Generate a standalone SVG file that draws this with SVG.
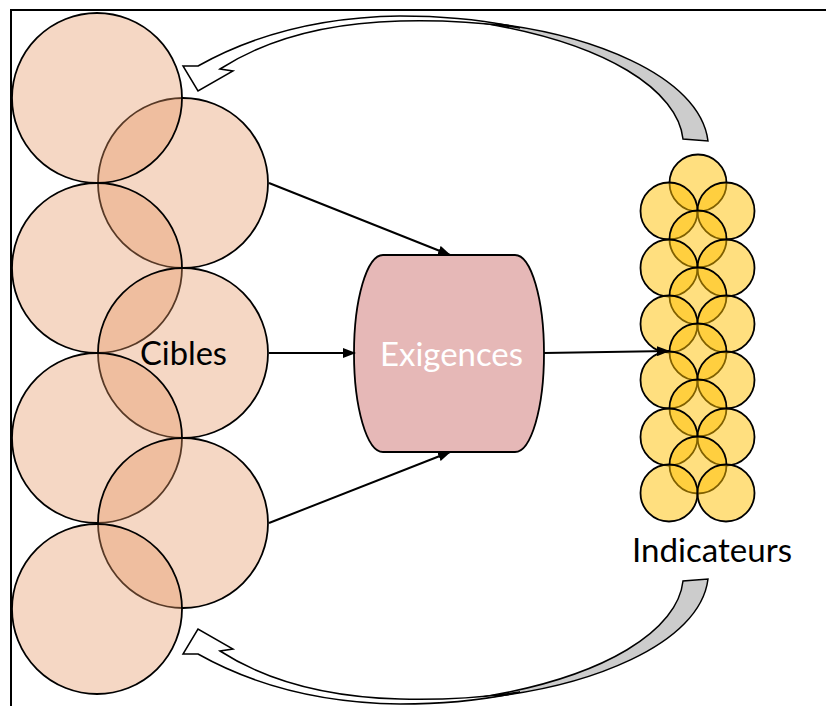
<svg xmlns="http://www.w3.org/2000/svg" width="826" height="706" viewBox="0 0 826 706">
<style>
.peach{fill:rgb(230,150,100);fill-opacity:0.38;stroke:#000;stroke-width:1.8}
.yel{fill:#FFC000;fill-opacity:0.5;stroke:#000;stroke-width:1.8}
.conn{stroke:#000;stroke-width:2;fill:none}
.lbl{font-family:Lato,"Open Sans","Liberation Sans",sans-serif;font-size:32px}
.band{stroke:#000;stroke-width:1.5;stroke-linejoin:miter}
</style>
<defs>
<marker id="ah" viewBox="0 0 13 10" refX="12" refY="5" markerWidth="13" markerHeight="10" markerUnits="userSpaceOnUse" orient="auto">
<path d="M0,0 L13,5 L0,10 Z" fill="#000"/>
</marker>
<g id="curved">
<path class="band" fill="#CCCCCC" d="M470,21 C590,31 700,76 708,141 L683,139 C678,92 610,42 470,21 Z"/>
<path class="band" fill="#FFFFFF" d="M183,66 L198,66 C255,34 320,17 400,16 C440,16 480,19 520,28 C480,22 440,20 400,21 C322,23 262,42 220,69 L233,71 L198,91 Z"/>
</g>
</defs>
<rect x="11" y="10" width="840" height="720" fill="none" stroke="#000" stroke-width="2"/>
<g id="cibles">
<circle class="peach" cx="183" cy="183" r="85"/>
<circle class="peach" cx="97" cy="98" r="85"/>
<circle class="peach" cx="97" cy="268" r="85"/>
<circle class="peach" cx="183" cy="353" r="85"/>
<circle class="peach" cx="97" cy="438" r="85"/>
<circle class="peach" cx="183" cy="523" r="85"/>
<circle class="peach" cx="97" cy="609" r="85"/>
<text class="lbl" x="140" y="365" textLength="87" lengthAdjust="spacingAndGlyphs" fill="#000">Cibles</text>
</g>
<g id="exigences">
<path d="M383,255 H515 A29,98.5 0 0 1 515,452 H383 A29,98.5 0 0 1 383,255 Z" fill="#E6B8B7" stroke="#000" stroke-width="1.8"/>
<text class="lbl" x="380" y="366" textLength="143" lengthAdjust="spacingAndGlyphs" fill="#FFFFFF">Exigences</text>
</g>
<g id="indicateurs">
<circle class="yel" cx="698" cy="183" r="28.5"/>
<circle class="yel" cx="669" cy="211" r="28.5"/>
<circle class="yel" cx="726" cy="211" r="28.5"/>
<circle class="yel" cx="698" cy="239" r="28.5"/>
<circle class="yel" cx="669" cy="268" r="28.5"/>
<circle class="yel" cx="726" cy="268" r="28.5"/>
<circle class="yel" cx="698" cy="296" r="28.5"/>
<circle class="yel" cx="669" cy="324" r="28.5"/>
<circle class="yel" cx="726" cy="324" r="28.5"/>
<circle class="yel" cx="698" cy="352" r="28.5"/>
<circle class="yel" cx="669" cy="380" r="28.5"/>
<circle class="yel" cx="726" cy="380" r="28.5"/>
<circle class="yel" cx="698" cy="408" r="28.5"/>
<circle class="yel" cx="669" cy="437" r="28.5"/>
<circle class="yel" cx="726" cy="437" r="28.5"/>
<circle class="yel" cx="698" cy="465" r="28.5"/>
<circle class="yel" cx="669" cy="493" r="28.5"/>
<circle class="yel" cx="726" cy="493" r="28.5"/>
<text class="lbl" x="632" y="562" textLength="160" lengthAdjust="spacingAndGlyphs" fill="#000">Indicateurs</text>
</g>
<g id="connectors">
<line class="conn" x1="269" y1="183" x2="450" y2="255" marker-end="url(#ah)"/>
<line class="conn" x1="269" y1="353" x2="355" y2="353" marker-end="url(#ah)"/>
<line class="conn" x1="269" y1="523" x2="450" y2="452" marker-end="url(#ah)"/>
<line class="conn" x1="544" y1="353" x2="669" y2="351" marker-end="url(#ah)"/>
<use href="#curved"/>
<use href="#curved" transform="matrix(1,0,0,-1,0,720)"/>
</g>
</svg>
